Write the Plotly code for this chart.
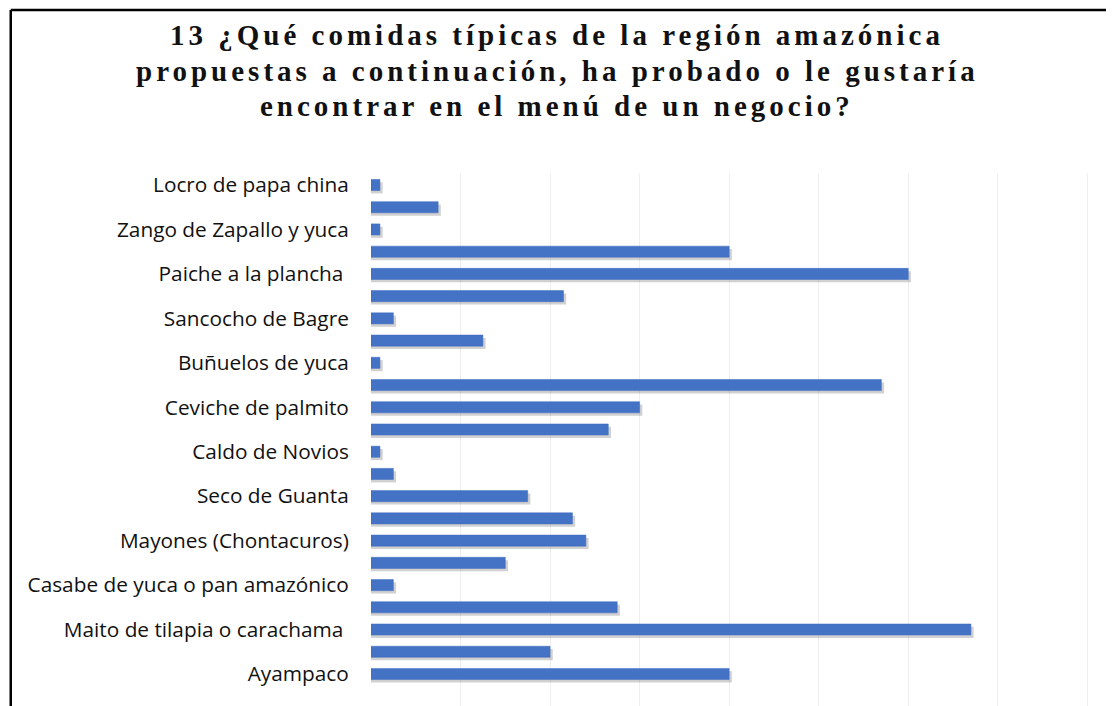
import plotly.graph_objects as go

# Categories from bottom (index 0) to top; only every other label is shown in the source
labels = [
    "Ayampaco", "", "Maito de tilapia o carachama ", "", "Casabe de yuca o pan amazónico", "",
    "Mayones (Chontacuros)", "", "Seco de Guanta", "", "Caldo de Novios", "",
    "Ceviche de palmito", "", "Buñuelos de yuca", "", "Sancocho de Bagre", "",
    "Paiche a la plancha ", "", "Zango de Zapallo y yuca", "", "Locro de papa china",
]
values = [80, 40, 134, 55, 5, 30, 48, 45, 35, 5, 2, 53, 60, 114, 2, 25, 5, 43, 120, 80, 2, 15, 2]
positions = list(range(len(values)))
tick_pos = [p for p, l in zip(positions, labels) if l]
tick_txt = [l for l in labels if l]

title_lines = [
    "13 ¿Qué comidas típicas de la región amazónica",
    "propuestas a continuación, ha probado o le gustaría",
    "encontrar en el menú de un negocio?",
]

# page body has an 8px margin; figure coordinates = screen - 8
OFF = 8
W, H = 1114 - OFF, 706 - OFF
left, top = 370.5 - OFF, 173 - OFF
pw, ph = W - left, H - top

def px(xs):  # screen x -> paper x
    return (xs - OFF - left) / pw

def py(ys):  # screen y -> paper y
    return 1 + (top - (ys - OFF)) / ph

fig = go.Figure()
# soft drop shadow
fig.add_trace(go.Bar(
    x=[v + 0.6 for v in values], y=[p - 0.13 for p in positions], orientation="h",
    width=0.5, marker=dict(color="rgba(70,70,70,0.25)", line=dict(width=0)),
    hoverinfo="skip", showlegend=False,
))
fig.add_trace(go.Bar(
    x=values, y=positions, orientation="h", width=0.5,
    marker=dict(color="#4472C4", line=dict(color="#3F6CC0", width=0.5)),
    showlegend=False,
))

annotations = []
for txt, yc in zip(title_lines, [35, 71, 106]):
    annotations.append(dict(
        text='<span style="letter-spacing:4px">' + txt + '</span>',
        xref="paper", yref="paper", x=px(557), y=py(yc),
        xanchor="center", yanchor="middle", showarrow=False,
        font=dict(family="Liberation Serif", size=29, color="#111111", weight="bold"),
    ))

fig.update_layout(
    width=W, height=H,
    barmode="overlay",
    paper_bgcolor="white", plot_bgcolor="white",
    margin=dict(l=left, r=0, t=top, b=0, pad=0),
    annotations=annotations,
    xaxis=dict(range=[0, pw / 4.48], dtick=20, showticklabels=False,
               showgrid=True, gridcolor="#EFEFEF", gridwidth=1, zeroline=False,
               showline=False, fixedrange=True),
    yaxis=dict(range=[-1.44, 22.54], tickmode="array", tickvals=tick_pos, ticktext=tick_txt,
               showgrid=False, zeroline=False, showline=False,
               ticks="outside", ticklen=17, tickcolor="rgba(0,0,0,0)",
               tickfont=dict(family="Open Sans", size=20.8, color="#111111")),
    shapes=[
        dict(type="line", xref="paper", yref="paper",
             x0=px(10), x1=1.0, y0=py(10), y1=py(10),
             line=dict(color="black", width=2.5)),
        dict(type="line", xref="paper", yref="paper",
             x0=px(10), x1=px(10), y0=py(720), y1=py(10),
             line=dict(color="black", width=2.5)),
    ],
)

fig.write_html("out.html")
